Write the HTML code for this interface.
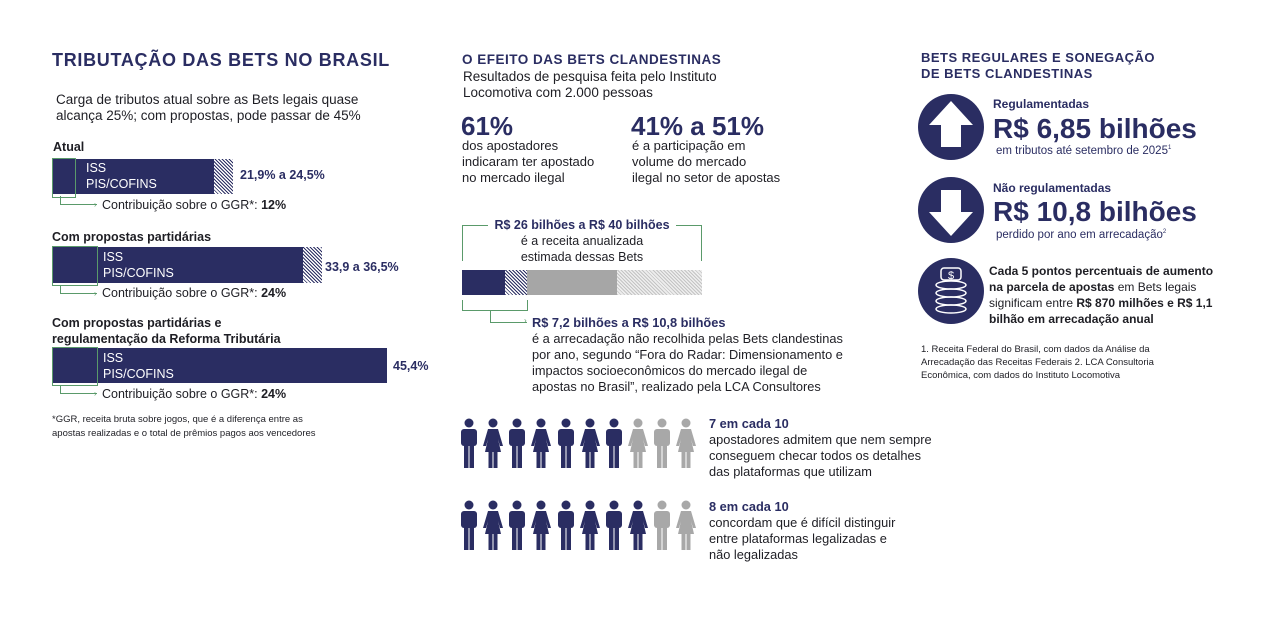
<!DOCTYPE html>
<html><head><meta charset="utf-8">
<style>
body{margin:0;width:1280px;height:617px;background:#fff;position:relative;overflow:hidden;font-family:"Liberation Sans",sans-serif;color:#1e1e24}
div{position:absolute;white-space:nowrap}
.h{color:#2a2d62;font-weight:bold}
.t{font-size:12.5px;line-height:16px}
.b{font-weight:bold}
.nv{background:#2a2d62}
.hat{background:repeating-linear-gradient(45deg,#2a2d62 0 1px,#fff 1px 2.5px)}
.wl{color:#fff;font-size:12.5px;line-height:16px}
.gb{border:1px solid #5a9a6a}
.val{color:#2a2d62;font-weight:bold;font-size:12.5px}
</style></head><body>
<!-- LEFT -->
<div class="h" style="left:52px;top:50px;font-size:18px;letter-spacing:0.7px">TRIBUTAÇÃO DAS BETS NO BRASIL</div>
<div class="t" style="left:56px;top:92px;font-size:13.5px">Carga de tributos atual sobre as Bets legais quase<br>alcança 25%; com propostas, pode passar de 45%</div>

<div class="t b" style="left:53px;top:139px">Atual</div>
<div class="nv" style="left:52px;top:159px;width:162px;height:35px"></div>
<div class="hat" style="left:214px;top:159px;width:19px;height:35px"></div>
<div class="gb" style="left:52px;top:158px;width:22px;height:38px"></div>
<div class="wl" style="left:86px;top:160px">ISS<br>PIS/COFINS</div>
<div class="val" style="left:240px;top:168px">21,9% a 24,5%</div>
<div style="left:60px;top:196px;width:36px;height:8px;border-left:1px solid #5a9a6a;border-bottom:1px solid #5a9a6a"></div>
<div style="left:94px;top:200px;font-size:8px;color:#5a9a6a">›</div>
<div class="t" style="left:102px;top:197px">Contribuição sobre o GGR*: <b>12%</b></div>

<div class="t b" style="left:52px;top:229px">Com propostas partidárias</div>
<div class="nv" style="left:52px;top:247px;width:251px;height:36px"></div>
<div class="hat" style="left:303px;top:247px;width:19px;height:36px"></div>
<div class="gb" style="left:52px;top:246px;width:44px;height:38px"></div>
<div class="wl" style="left:103px;top:249px">ISS<br>PIS/COFINS</div>
<div class="val" style="left:325px;top:260px">33,9 a 36,5%</div>
<div style="left:60px;top:285px;width:36px;height:8px;border-left:1px solid #5a9a6a;border-bottom:1px solid #5a9a6a"></div>
<div style="left:94px;top:289px;font-size:8px;color:#5a9a6a">›</div>
<div class="t" style="left:102px;top:285px">Contribuição sobre o GGR*: <b>24%</b></div>

<div class="t b" style="left:52px;top:315px">Com propostas partidárias e<br>regulamentação da Reforma Tributária</div>
<div class="nv" style="left:52px;top:348px;width:335px;height:35px"></div>
<div class="gb" style="left:52px;top:347px;width:44px;height:37px"></div>
<div class="wl" style="left:103px;top:350px">ISS<br>PIS/COFINS</div>
<div class="val" style="left:393px;top:359px">45,4%</div>
<div style="left:60px;top:385px;width:36px;height:8px;border-left:1px solid #5a9a6a;border-bottom:1px solid #5a9a6a"></div>
<div style="left:94px;top:389px;font-size:8px;color:#5a9a6a">›</div>
<div class="t" style="left:102px;top:386px">Contribuição sobre o GGR*: <b>24%</b></div>
<div style="left:52px;top:413px;font-size:9.5px;line-height:14px">*GGR, receita bruta sobre jogos, que é a diferença entre as<br>apostas realizadas e o total de prêmios pagos aos vencedores</div>

<!-- MIDDLE -->
<div class="h" style="left:462px;top:52px;font-size:13.5px;letter-spacing:0.5px">O EFEITO DAS BETS CLANDESTINAS</div>
<div class="t" style="left:463px;top:69px;font-size:13.5px">Resultados de pesquisa feita pelo Instituto<br>Locomotiva com 2.000 pessoas</div>
<div class="h" style="left:461px;top:111px;font-size:26px">61%</div>
<div class="t" style="left:462px;top:138px;font-size:13px">dos apostadores<br>indicaram ter apostado<br>no mercado ilegal</div>
<div class="h" style="left:631px;top:111px;font-size:26px">41% a 51%</div>
<div class="t" style="left:632px;top:138px;font-size:13px">é a participação em<br>volume do mercado<br>ilegal no setor de apostas</div>

<div style="left:462px;top:225px;width:25px;height:35px;border-left:1px solid #5a9a6a;border-top:1px solid #5a9a6a"></div>
<div style="left:676px;top:225px;width:25px;height:35px;border-right:1px solid #5a9a6a;border-top:1px solid #5a9a6a"></div>
<div class="t" style="left:482px;top:217px;width:200px;text-align:center"><b style="color:#2a2d62">R$ 26 bilhões a R$ 40 bilhões</b><br>é a receita anualizada<br>estimada dessas Bets</div>
<div class="nv" style="left:462px;top:270px;width:43px;height:25px"></div>
<div class="hat" style="left:505px;top:270px;width:22px;height:25px"></div>
<div style="left:527px;top:270px;width:90px;height:25px;background:#a6a6a6"></div>
<div style="left:617px;top:270px;width:85px;height:25px;background:repeating-linear-gradient(45deg,#c4c4c4 0 1px,#eee 1px 2.5px)"></div>
<div style="left:462px;top:300px;width:64px;height:10px;border-left:1px solid #5a9a6a;border-right:1px solid #5a9a6a;border-bottom:1px solid #5a9a6a"></div>
<div style="left:490px;top:311px;width:36px;height:11px;border-left:1px solid #5a9a6a;border-bottom:1px solid #5a9a6a"></div>
<div style="left:524px;top:316px;font-size:8px;color:#5a9a6a">›</div>
<div class="t" style="left:532px;top:315px;font-size:12.8px"><b style="color:#2a2d62">R$ 7,2 bilhões a R$ 10,8 bilhões</b><br>é a arrecadação não recolhida pelas Bets clandestinas<br>por ano, segundo “Fora do Radar: Dimensionamento e<br>impactos socioeconômicos do mercado ilegal de<br>apostas no Brasil”, realizado pela LCA Consultores</div>

<svg style="position:absolute;left:0;top:0" width="1280" height="617">
<defs>
<g id="m"><circle cx="11" cy="5" r="4.5"/><rect x="3" y="11" width="16" height="17" rx="3"/><rect x="6" y="26" width="4.5" height="24"/><rect x="11.5" y="26" width="4.5" height="24"/></g>
<g id="w"><circle cx="11" cy="5" r="4.5"/><path d="M6 11h10l5 17h-3l-2-7 3 13H3l3-13-2 7H1z"/><rect x="6.5" y="33" width="4" height="17"/><rect x="11.5" y="33" width="4" height="17"/></g>
</defs>
<g fill="#2a2d62">
<use href="#m" x="458" y="418"/><use href="#w" x="482" y="418"/><use href="#m" x="506" y="418"/><use href="#w" x="530" y="418"/><use href="#m" x="555" y="418"/><use href="#w" x="579" y="418"/><use href="#m" x="603" y="418"/>
<use href="#m" x="458" y="500"/><use href="#w" x="482" y="500"/><use href="#m" x="506" y="500"/><use href="#w" x="530" y="500"/><use href="#m" x="555" y="500"/><use href="#w" x="579" y="500"/><use href="#m" x="603" y="500"/><use href="#w" x="627" y="500"/>
</g>
<g fill="#a8a8a8">
<use href="#w" x="627" y="418"/><use href="#m" x="651" y="418"/><use href="#w" x="675" y="418"/>
<use href="#m" x="651" y="500"/><use href="#w" x="675" y="500"/>
</g>
<circle cx="951" cy="127" r="33" fill="#2a2d62"/>
<path d="M951 101l-22 24h12v22h20v-22h12z" fill="#fff"/>
<circle cx="951" cy="210" r="33" fill="#2a2d62"/>
<path d="M951 236l-22-24h12v-22h20v22h12z" fill="#fff"/>
<circle cx="951" cy="291" r="33" fill="#2a2d62"/>
<g fill="none" stroke="#fff" stroke-width="1.5">
<rect x="941" y="268" width="20" height="12" rx="3"/>
<ellipse cx="951" cy="285" rx="15" ry="4"/><ellipse cx="951" cy="293" rx="15" ry="4"/><ellipse cx="951" cy="301" rx="15" ry="4"/><ellipse cx="951" cy="309" rx="15" ry="4"/>
</g>
<text x="951" y="279" font-family="Liberation Sans" font-size="11" fill="#fff" text-anchor="middle">$</text>
</svg>
<div class="t" style="left:709px;top:416px;font-size:12.8px"><b style="color:#2a2d62">7 em cada 10</b><br>apostadores admitem que nem sempre<br>conseguem checar todos os detalhes<br>das plataformas que utilizam</div>
<div class="t" style="left:709px;top:499px;font-size:12.8px"><b style="color:#2a2d62">8 em cada 10</b><br>concordam que é difícil distinguir<br>entre plataformas legalizadas e<br>não legalizadas</div>

<!-- RIGHT -->
<div class="h" style="left:921px;top:50px;font-size:13px;line-height:16px;letter-spacing:0.5px">BETS REGULARES E SONEGAÇÃO<br>DE BETS CLANDESTINAS</div>
<div class="h" style="left:993px;top:97px;font-size:12px">Regulamentadas</div>
<div class="h" style="left:993px;top:114px;font-size:28px;line-height:30px">R$ 6,85 bilhões</div>
<div style="left:996px;top:145px;font-size:11.5px;color:#2a2d62">em tributos até setembro de 2025<sup style="font-size:6px">1</sup></div>
<div class="h" style="left:993px;top:181px;font-size:12px">Não regulamentadas</div>
<div class="h" style="left:993px;top:197px;font-size:28px;line-height:30px">R$ 10,8 bilhões</div>
<div style="left:996px;top:229px;font-size:11.5px;color:#2a2d62">perdido por ano em arrecadação<sup style="font-size:6px">2</sup></div>
<div class="t" style="left:989px;top:263px;font-size:12px"><b>Cada 5 pontos percentuais de aumento</b><br><b>na parcela de apostas</b> em Bets legais<br>significam entre <b>R$ 870 milhões e R$ 1,1</b><br><b>bilhão em arrecadação anual</b></div>
<div style="left:921px;top:343px;font-size:9.5px;line-height:13px">1. Receita Federal do Brasil, com dados da Análise da<br>Arrecadação das Receitas Federais 2. LCA Consultoria<br>Econômica, com dados do Instituto Locomotiva</div>
</body></html>
